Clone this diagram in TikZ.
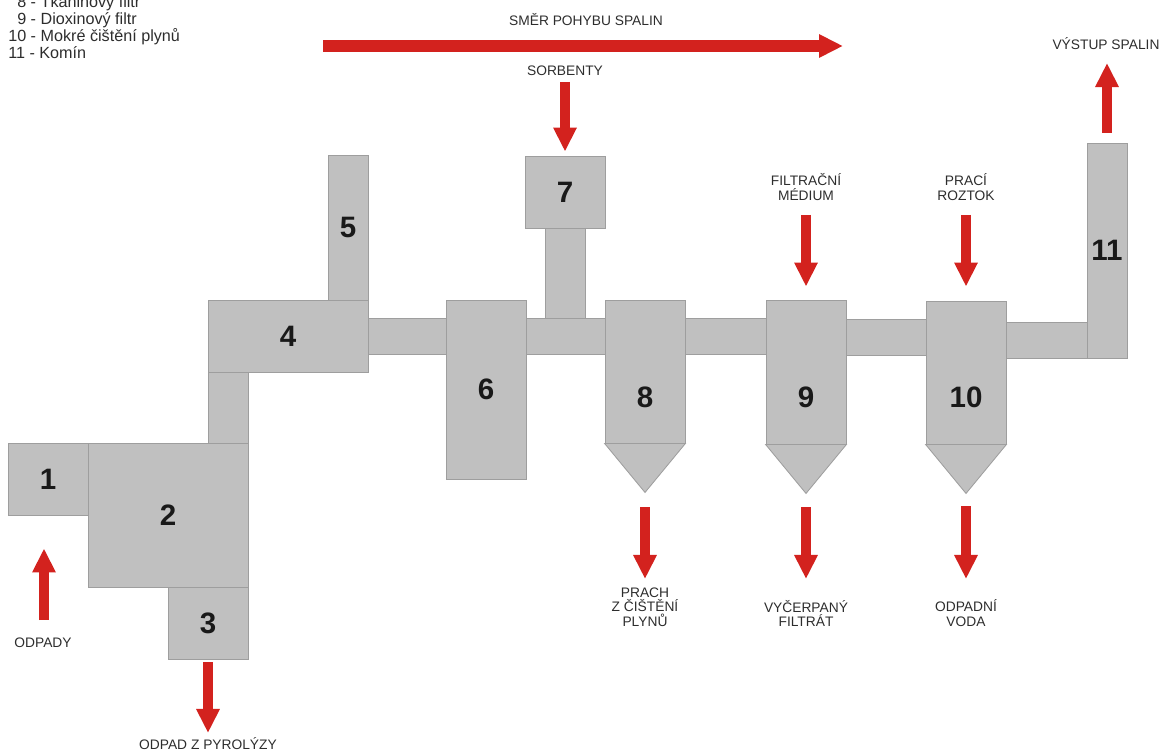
\documentclass[tikz,border=0pt]{standalone}
\usepackage{fontspec}
\setmainfont{Liberation Sans}
\usetikzlibrary{arrows.meta,positioning}

\definecolor{unitgray}{RGB}{192,192,192}
\definecolor{edgegray}{RGB}{158,158,158}
\definecolor{flowred}{RGB}{211,34,30}
\definecolor{txtgray}{RGB}{45,45,45}

\begin{document}
\begin{tikzpicture}[x=0.025cm,y=-0.025cm,>={Triangle[length=0.6cm,width=0.55cm]},
                    font=\fontsize{9.8}{10.4}\selectfont]
  \tikzstyle{unit}=[draw=edgegray,fill=unitgray,line width=0.6pt,inner sep=0pt,
                    font=\fontsize{21}{21}\selectfont\bfseries,text=black!90]
  \tikzstyle{pipe}=[unit]
  \tikzstyle{num}=[font=\fontsize{21}{21}\selectfont\bfseries,text=black!90]
  \tikzstyle{lbl}=[text=txtgray,align=center,inner sep=0pt]
  \tikzstyle{flow}=[->,draw=flowred,line width=0.25cm]

  \path[use as bounding box,clip] (0,0) rectangle (1161,753);

  % legend (first line cut by the page edge)
  \node[anchor=south west,align=left,inner sep=0pt,text=txtgray,
        font=\fontsize{11.5}{12.1}\selectfont] (legenda) at (8,58.5)
    {\phantom{1}8 - Tkaninový filtr\\
     \phantom{1}9 - Dioxinový filtr\\
     10 - Mokré čištění plynů\\
     11 - Komín};

  % pipes
  \node[pipe,minimum width=1cm,minimum height=1.8cm]      (p24)   at (228,407)    {};
  \node[pipe,minimum width=1.95cm,minimum height=0.9cm]   (p46)   at (407,336)    {};
  \node[pipe,minimum width=1cm,minimum height=2.25cm]     (p7)    at (565,273)    {};
  \node[pipe,minimum width=1.975cm,minimum height=0.9cm]  (p68)   at (565.5,336)  {};
  \node[pipe,minimum width=2.025cm,minimum height=0.9cm]  (p89)   at (725.5,336)  {};
  \node[pipe,minimum width=2cm,minimum height=0.9cm]      (p910)  at (886,337)    {};
  \node[pipe,minimum width=2.025cm,minimum height=0.9cm]  (p1011) at (1046.5,340) {};

  % units
  \node[unit,minimum width=2cm,minimum height=1.8cm]   (k1)  at (48,479)     {1};
  \node[unit,minimum width=4cm,minimum height=3.6cm]   (k2)  at (168,515)    {2};
  \node[unit,minimum width=2cm,minimum height=1.8cm]   (k3)  at (208,623)    {3};
  \node[unit,minimum width=4cm,minimum height=1.8cm]   (k4)  at (288,336)    {4};
  \node[unit,minimum width=1cm,minimum height=3.625cm] (k5)  at (348,227.5)  {5};
  \node[unit,minimum width=2cm,minimum height=4.475cm] (k6)  at (486,389.5)  {6};
  \node[unit,minimum width=2cm,minimum height=1.8cm]   (k7)  at (565,192)    {7};
  \node[unit,minimum width=2cm,minimum height=3.575cm] (k8)  at (645,371.5)  {};
  \node[unit,minimum width=2cm,minimum height=3.6cm]   (k9)  at (806,372)    {};
  \node[unit,minimum width=2cm,minimum height=3.575cm] (k10) at (966,372.5)  {};
  \node[unit,minimum width=1cm,minimum height=5.375cm] (k11) at (1107,250.5) {11};

  % hoppers
  \foreach \k in {8,9,10}{
    \coordinate (tip\k) at ([yshift=-1.225cm]k\k.south);
    \draw[unit] (k\k.south west) -- (k\k.south east) -- (tip\k) -- cycle;
  }
  \node[num] (n8)  at (645,397) {8};
  \node[num] (n9)  at (806,397) {9};
  \node[num] (n10) at (966,397) {10};

  % gas flow direction
  \coordinate (smerA) at (323,46);
  \coordinate (smerB) at (843,46);
  \node[lbl,anchor=south] (smer) at (586,26) {SMĚR POHYBU SPALIN};
  \draw[flow,line width=0.3cm] (smerA) -- (smerB);

  % inputs
  \coordinate (in7) at (565,82);
  \node[lbl,anchor=south] (sorb) at (565,76) {SORBENTY};
  \draw[flow,shorten >=0.1cm] (in7) -- (k7);

  \coordinate (in9) at (806,215);
  \node[lbl,anchor=south] (filt) at (806,201) {FILTRAČNÍ\\MÉDIUM};
  \draw[flow,shorten >=0.325cm] (in9) -- (k9);

  \coordinate (in10) at (966,215);
  \node[lbl,anchor=south] (roztok) at (966,201) {PRACÍ\\ROZTOK};
  \draw[flow,shorten >=0.35cm] (in10) -- (k10);

  \coordinate (in1) at (44,620);
  \node[lbl,anchor=south] (odpady) at (43,648) {ODPADY};
  \draw[flow,shorten >=0.825cm] (in1) -- (in1 |- k1.south);

  % outputs
  \coordinate (out3) at (208,733);
  \node[lbl,anchor=south] (pyrol) at (208,750) {ODPAD Z PYROLÝZY};
  \draw[flow,shorten <=0.075cm] (k3) -- (out3);

  \coordinate (out11) at (1107,63);
  \node[lbl,anchor=south] (vystup) at (1106,50) {VÝSTUP SPALIN};
  \draw[flow,shorten <=0.25cm] (k11) -- (out11);

  \coordinate (out8) at (645,579);
  \node[lbl,anchor=south] (prach) at (645,627) {PRACH\\Z ČIŠTĚNÍ\\PLYNŮ};
  \draw[flow,shorten <=0.375cm] (tip8) -- (out8);

  \coordinate (out9) at (806,579);
  \node[lbl,anchor=south] (filtrat) at (806,627) {VYČERPANÝ\\FILTRÁT};
  \draw[flow,shorten <=0.35cm] (tip9) -- (out9);

  \coordinate (out10) at (966,579);
  \node[lbl,anchor=south] (voda) at (966,627) {ODPADNÍ\\VODA};
  \draw[flow,shorten <=0.325cm] (tip10) -- (out10);
\end{tikzpicture}
\end{document}
